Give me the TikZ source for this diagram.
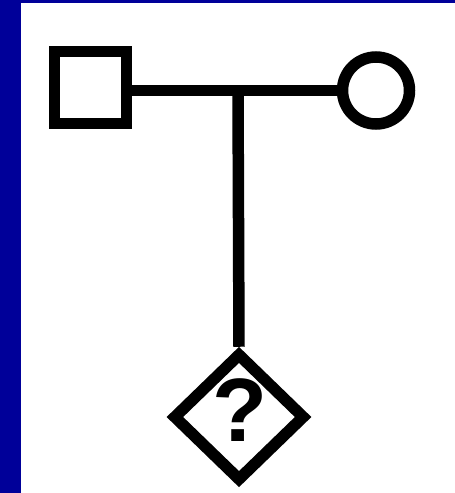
\documentclass[tikz,border=0pt]{standalone}
\usepackage{fontspec}
\setmainfont{Liberation Sans}
\usetikzlibrary{shapes.geometric}
\definecolor{frameblue}{HTML}{000099}
\tikzset{
  pedline/.style={line width=11.5pt, draw=black},
  male/.style={pedline, rectangle, minimum size=72pt, inner sep=0pt},
  female/.style={pedline, circle, minimum size=67pt, inner sep=0pt},
  unknown/.style={pedline, diamond, minimum width=133pt, minimum height=129pt, inner sep=0pt},
  qmark/.style={font=\fontsize{90}{90}\selectfont\bfseries, inner sep=0pt}
}
\begin{document}
\begin{tikzpicture}[x=1pt,y=-1pt]
\useasboundingbox (0,0) rectangle (455,493);
\fill[white] (0,0) rectangle (455,493);
\fill[frameblue] (0,0) rectangle (21,493);
\fill[frameblue] (0,0) rectangle (455,3);
\node[male] (m) at (90.5,87.5) {};
\node[female] (f) at (376,90.5) {};
\node[unknown] (c) at (239,417) {};
\node[qmark] (q) at (240,410) {?};
\coordinate (j) at (238,90.5);
\draw[pedline] (m.east |- j) -- (f.west |- j);
\draw[pedline] (j) -- (c.north);
\end{tikzpicture}
\end{document}
